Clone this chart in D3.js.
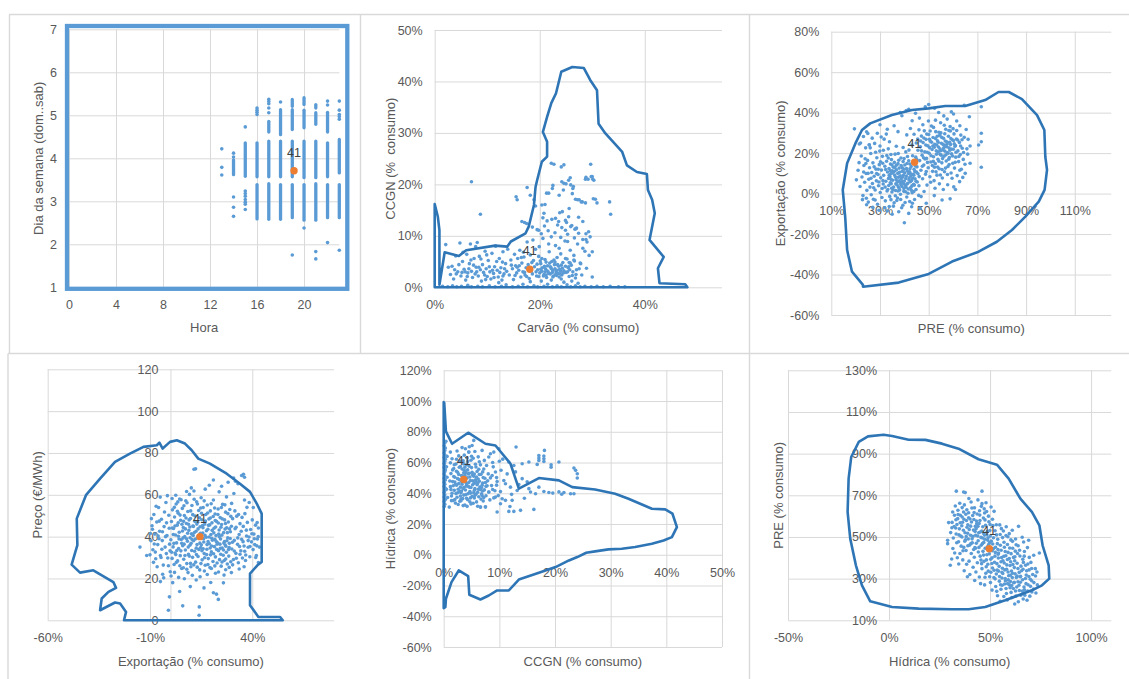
<!DOCTYPE html>
<html><head><meta charset="utf-8">
<script src="https://cdn.jsdelivr.net/npm/d3@7"></script>
<style>
body{margin:0;background:#fff}
svg{display:block;font-family:"Liberation Sans",Arial,sans-serif}
.tick text{fill:#595959;font-size:12.5px}
.ttl{fill:#595959;font-size:13px;white-space:pre}
.lbl{fill:#404040;font-size:12.5px}
</style></head><body>
<svg id="c" width="1129" height="679"></svg>
<script>
// ---------- tick values ----------
const hourTicks = [0, 4, 8, 12, 16, 20];
const dayTicks = [1, 2, 3, 4, 5, 6, 7];
const coalTicks = [0, 20, 40];
const ccgnTicks = [0, 10, 20, 30, 40, 50];
const preTicks = [10, 30, 50, 70, 90, 110];
const exportTicks = [-60, -40, -20, 0, 20, 40, 60, 80];
const exportTicksB = [-60, -10, 40];
const priceTicks = [0, 20, 40, 60, 80, 100, 120];
const hydroTicks = [-60, -40, -20, 0, 20, 40, 60, 80, 100, 120];
const hydroTicksB = [-50, 0, 50, 100];
const preTicksB = [10, 30, 50, 70, 90, 110, 130];

// ---------- hour / weekday: dense runs [hour, from, to] and single readings ----------
const hourRuns = [
  [14,3.62,3.96],[15,3.58,4.36],[16,3.57,4.36],[16,2.59,3.39],[17,4.61,4.86],[17,3.57,4.40],[17,2.58,3.41],
  [18,4.55,5.13],[18,3.57,4.40],[18,2.58,3.39],[19,5.21,5.37],[19,4.67,5.13],[19,3.57,4.40],[19,2.62,3.39],
  [20,5.25,5.41],[20,4.71,5.12],[20,3.55,4.40],[20,2.56,3.39],[21,5.17,5.25],[21,4.79,5.06],[21,3.55,4.40],
  [21,2.56,3.41],[22,4.61,5.07],[22,3.57,4.36],[22,2.62,3.39],[23,3.66,4.44],[23,2.62,3.39]
];
const hourDots = [
  [13,4.22],[13,3.79],[13,3.61],[14,4.12],[14,4.03],[14,3.10],[14,2.86],[14,2.65],[15,4.73],[15,3.24],
  [15,3.18],[15,3.12],[15,3.04],[15,2.98],[15,2.93],[15,2.81],[16,5.17],[16,5.12],[16,5.07],[16,5.02],
  [17,5.37],[17,5.32],[17,5.27],[17,5.17],[17,5.06],[18,5.31],[19,1.75],[20,2.38],[21,1.83],[21,1.66],
  [22,5.33],[22,5.24],[22,2.04],[23,5.33],[23,5.12],[23,5.02],[23,4.97],[23,4.91],[23,1.86]
];

// ---------- Carvão vs CCGN (% consumo) ----------
const coalCcgnPts = [
  [1.5,0.2],[2.5,0.1],[3.4,0.3],[4.2,0.1],[5.1,0.2],[6.3,0.4],[7.0,0.1],[8.2,0.2],[9.1,0.1],[10.4,0.3],[11.5,0.1],[12.7,0.2],[13.6,0.5],[14.8,0.1],[15.9,0.2],[16.8,0.6],[17.7,0.1],[18.9,0.3],[19.6,0.1],[20.8,0.2],[21.5,0.6],[22.4,0.1],[23.3,0.3],[24.1,0.1],[25.2,0.5],[25.9,0.1],[26.8,0.3],[27.7,0.1],[28.6,0.2],[29.8,0.1],[30.9,0.2],[32.1,0.1],[33.4,0.2],[35.0,0.1],[36.2,0.1],[24.6,1.0],[26.1,1.2],[18.2,1.1],[12.2,0.9],[27.3,0.8],
  [2.1,8.3],[3.0,2.5],[3.3,4.1],[3.6,1.6],[4.0,6.1],[4.4,3.0],[4.8,8.6],[5.0,2.2],[5.3,5.0],[5.6,3.5],[5.9,1.4],[6.1,6.4],[6.3,2.8],[6.6,4.6],[6.8,8.4],[7.0,3.1],[7.2,1.9],[7.5,5.6],[7.7,2.6],[7.9,3.9],[8.1,8.7],[8.3,2.2],[8.5,6.0],[8.7,3.4],[8.9,1.2],[9.1,4.4],[9.3,2.9],[9.6,7.0],[9.8,3.6],[10.0,2.1],[10.2,5.2],[10.5,3.0],[10.7,1.6],[10.9,6.6],[11.2,2.7],[11.4,4.0],[11.6,8.0],[11.9,3.3],[12.1,2.0],[12.3,5.6],[12.6,3.8],[12.8,1.4],[13.0,6.9],[13.2,2.6],[13.5,4.6],[13.7,3.1],[13.9,7.4],[4.6,4.4],[5.8,3.0],[6.9,5.3],[7.4,4.3],[8.0,3.0],[8.8,5.5],[9.5,2.4],[10.4,4.0],[11.0,3.3],[11.8,5.0],[12.4,2.9],[13.3,3.6],[6.2,2.1],[3.8,3.4],[2.6,3.9],[5.4,6.8],[9.9,6.3],[7.8,7.9],[12.9,4.9],
  [14.2,2.4],[14.5,5.3],[14.8,3.6],[15.0,1.5],[15.2,6.4],[15.4,4.2],[15.6,2.8],[15.8,5.6],[16.0,3.3],[16.2,7.2],[16.4,2.0],[16.6,4.7],[16.8,3.0],[17.0,5.9],[17.2,2.4],[17.4,3.8],[17.6,8.8],[17.8,4.4],[18.0,1.7],[18.2,6.3],[18.4,3.2],[18.6,2.6],[18.8,5.2],[19.0,4.0],[19.2,7.4],[19.4,2.2],[19.6,3.4],[19.8,6.0],[20.0,2.8],[20.2,4.6],[20.4,3.1],[20.6,9.5],[20.8,2.5],[21.0,5.4],[21.1,3.6],[21.3,1.9],[21.5,4.2],[21.6,3.0],[21.8,6.9],[22.0,2.6],[22.1,3.9],[22.3,5.0],[22.5,3.3],[22.6,2.2],[22.8,4.4],[23.0,8.1],[23.1,3.0],[23.3,5.8],[23.5,2.7],[23.6,4.1],[23.8,3.5],[24.0,6.5],[24.2,2.4],[24.4,4.8],[24.6,3.2],[24.8,9.0],[25.0,2.9],[25.2,5.5],[25.4,3.8],[25.6,2.1],[25.8,7.2],[26.0,4.3],[26.3,3.0],[26.6,5.1],[26.9,2.5],[27.2,8.4],[27.5,3.6],[27.8,4.6],[28.2,9.3],[28.6,7.0],[29.0,8.8],[29.4,6.2],[21.2,2.4],[21.9,4.7],[22.4,2.9],[22.9,3.6],[23.4,4.4],[23.9,2.6],[20.5,3.8],[19.8,2.1],[20.9,4.1],[22.7,5.3],[24.3,3.7],[21.4,3.2],[23.2,2.3],[20.1,5.1],[18.5,4.8],[19.3,3.0],[17.1,2.9],[16.5,5.8],[15.7,3.9],[24.9,4.1],[25.7,3.4],[26.5,6.2],[19.9,7.9],[22.2,9.8],[23.7,7.6],[25.3,8.9],[26.8,1.8],[16.9,6.8],[18.7,9.2],[21.7,8.4],[24.1,1.6],[22.2,1.4],[20.3,1.2],
  [19.5,4.5],[20.2,3.5],[20.7,2.2],[21.2,4.9],[21.7,2.7],[22.0,4.0],[22.5,2.0],[22.9,4.9],[23.3,3.3],[23.7,2.0],[24.1,4.3],[24.5,2.8],[24.9,5.6],[25.3,3.0],[25.6,4.8],[21.0,3.0],[22.2,3.6],[23.0,2.5],[24.0,3.1],[20.4,5.6],[18.2,3.7],[17.5,2.1],[16.1,4.2],[15.3,2.3],[14.6,4.3],[13.0,2.2],[11.3,1.9],[9.7,1.5],[8.4,3.9],[6.5,3.6],[5.2,2.9],[4.1,2.6],[26.2,2.3],[27.0,3.4],[28.0,2.4],[28.9,3.7],[30.0,2.0],
  [17.5,12.4],[18.6,11.7],[19.2,15.8],[19.5,11.2],[20.3,10.4],[20.6,13.5],[21.0,16.1],[21.6,11.0],[22.3,13.2],[22.9,10.6],[23.4,12.1],[23.8,14.5],[24.2,11.6],[24.5,18.9],[24.9,13.0],[25.3,10.3],[25.6,15.3],[26.1,12.0],[26.4,19.6],[26.9,11.4],[27.4,13.6],[27.9,16.6],[28.8,10.4],[29.6,9.8],[30.2,17.2],[29.2,21.0],[30.0,21.5],[30.3,20.8],[24.2,20.5],[25.0,20.1],[23.7,17.9],[22.5,19.8],[28.7,16.4],[27.2,17.0],[26.6,9.6],[27.0,11.5],[25.8,21.3],[26.2,18.2],[21.3,18.3],[20.9,11.9],[28.2,12.8],[24.0,9.7],[25.1,12.6],
  [7.0,20.5],[8.7,14.2],[15.5,17.6],[15.7,17.0],[17.6,19.4],[18.2,17.9],[18.9,17.0],[20.4,16.0],[20.8,14.4],[22.2,24.1],[22.7,23.9],[24.1,23.4],[24.6,23.8],[21.7,18.3],[22.4,19.2],[24.6,20.2],[25.5,20.8],[25.9,19.9],[26.3,19.2],[26.8,17.1],[27.5,17.0],[28.1,16.6],[28.7,21.0],[28.8,21.4],[29.7,23.9],[29.8,21.5],[30.1,21.0],[30.6,17.1],[30.9,16.4],[33.3,16.6],[33.5,14.2],[25.5,13.7],[24.3,14.7],[23.0,13.4],[23.6,12.8],[21.4,12.9],[19.8,11.1],[17.1,12.6],[16.6,12.8],[24.9,11.1],[25.9,11.8],[26.7,11.3],[27.4,10.5],[28.8,9.3],[29.3,10.8],[28.2,7.6],[30.0,6.9],[27.7,4.7],[26.5,5.3],[25.5,4.0],[25.8,4.7]
];
const coalCcgnHull = [
  [0,16.2],[0.6,13.7],[0.9,11.1],[0.9,0.5],[1.9,6.8],[4.6,6.1],[6.0,7.2],[11.5,8.1],[13.8,7.9],[14.5,8.9],[17.3,10.5],[17.9,11.8],[18.9,16.0],[19.2,19.5],[19.5,20.8],[20.4,24.4],[21.4,25.4],[21.4,28.3],[20.6,30.2],[21.4,33.1],[22.2,35.8],[23.1,37.7],[24.1,41.9],[26.2,42.8],[28.4,42.6],[29.6,40.3],[30.9,38.3],[31.2,31.8],[32.5,29.9],[35.7,26.3],[36.6,23.7],[38.5,22.4],[40.4,22.0],[40.6,18.9],[41.4,17.0],[41.9,14.4],[40.9,9.2],[43.6,5.9],[42.5,3.7],[42.8,0.8],[47.7,0.6],[48.1,0],[0,0]
];

// ---------- PRE vs Exportação (% consumo) ----------
const preExportPts = [
  [21.0,11.5],[21.8,3.5],[22.3,18.6],[22.6,8.2],[23.0,-1.0],[23.4,13.9],[23.7,5.6],[24.1,22.6],[24.3,9.9],[24.6,1.6],[24.9,16.4],[25.2,-4.2],[25.4,7.1],[25.7,12.8],[25.9,3.2],[26.2,19.8],[26.4,-0.6],[26.6,10.4],[26.9,5.0],[27.1,15.2],[27.3,-2.8],[27.6,8.6],[27.8,24.8],[28.0,1.8],[28.3,12.1],[28.5,6.3],[28.7,17.7],[29.0,-5.3],[29.2,9.4],[29.4,3.9],[29.7,14.3],[29.9,21.0],[30.1,0.5],[30.3,7.8],[30.6,11.6],[30.8,-1.9],[31.0,18.4],[31.3,4.7],[31.5,9.0],[31.7,26.9],[32.0,13.5],[32.2,-3.6],[32.4,6.1],[32.7,16.0],[32.9,1.3],[33.1,10.7],[33.4,22.1],[33.6,4.0],[33.8,-6.4],[34.1,8.3],[34.3,14.6],[34.5,19.3],[34.8,2.6],[35.0,11.3],[22.0,25.0],[23.2,28.2],[25.0,29.7],[26.8,27.4],[28.9,29.8],[30.5,28.0],[32.6,29.4],[24.4,-2.3],[27.0,-6.8],[29.6,-8.2],[31.9,-7.0],[26.0,22.6],[28.2,20.4],[30.0,23.5],[31.4,21.4],[33.9,25.6],[20.3,6.8],[21.4,15.3],[23.9,17.2],[25.6,24.1],[27.4,2.9],[29.3,12.0],[31.1,15.0],[34.6,4.9],[22.8,-3.0],[32.8,18.8],
  [33.2,2.0],[33.5,7.5],[33.7,12.4],[34.0,-1.4],[34.2,5.3],[34.4,9.8],[34.7,16.8],[34.9,0.8],[35.2,6.6],[35.4,13.1],[35.6,3.2],[35.8,-4.5],[36.0,9.2],[36.2,19.5],[36.4,1.5],[36.6,7.0],[36.8,11.8],[37.0,4.4],[37.2,-2.2],[37.4,14.8],[37.6,8.1],[37.8,2.7],[38.0,10.5],[38.2,5.6],[38.4,-0.3],[38.6,17.6],[38.8,7.4],[39.0,3.5],[39.2,12.7],[39.4,-5.8],[39.6,9.0],[39.8,1.1],[40.0,6.2],[40.2,14.1],[40.4,4.0],[40.6,20.6],[40.8,8.7],[41.0,-1.7],[41.2,11.2],[41.4,5.1],[41.6,2.3],[41.8,16.2],[42.0,7.8],[42.2,-3.9],[42.4,10.1],[42.6,3.0],[42.8,13.4],[43.0,6.5],[43.2,0.4],[43.4,18.7],[43.6,9.5],[43.8,4.6],[44.0,12.0],[44.2,-2.9],[44.4,7.3],[44.6,15.5],[44.8,2.0],[45.0,10.6],[45.3,5.7],[45.6,21.4],[45.9,-0.9],[46.1,8.4],[36.1,12.9],[37.3,10.0],[38.7,13.9],[39.7,5.0],[40.9,12.4],[42.3,14.6],[35.1,10.2],[36.9,-3.4],[38.1,1.8],[39.3,8.2],[40.5,0.9],[41.7,9.9],[42.9,1.6],[44.1,4.2],[34.5,-3.0],[37.7,16.5],[39.9,17.3],[41.3,18.3],[43.3,-4.8],[35.5,-6.2],[38.9,-7.0],[40.3,-4.4],[36.5,4.8],[37.9,6.3],[39.1,11.0],[40.7,3.1],[42.5,5.9],[43.9,9.1],[45.2,13.2],[35.9,15.4],[34.3,11.3],[44.7,18.0],[33.4,17.6],[41.9,21.5],[39.5,22.8],[36.7,23.4],[43.1,24.0],[37.5,19.8],
  [34.6,6.9],[35.3,1.9],[35.9,11.0],[36.3,-1.1],[36.7,14.0],[37.1,6.0],[37.5,3.4],[37.9,12.6],[38.3,8.8],[38.5,-2.9],[39.1,5.9],[39.5,15.8],[39.8,2.5],[40.1,10.3],[40.6,7.5],[41.1,14.9],[41.5,0.2],[41.9,6.8],[42.3,12.3],[42.7,8.9],[43.1,3.8],[43.5,15.1],[43.9,1.0],[44.3,10.9],[44.8,6.1],[45.1,16.8],[45.6,9.8],[46.0,3.9],[36.3,8.3],[37.4,1.3],[38.6,4.5],[39.9,12.0],[41.0,4.6],[42.1,10.8],[43.4,7.6],[44.5,13.6],[34.9,14.2],[33.8,9.1],[32.3,11.9],[31.2,6.4],[30.2,15.7],[29.5,5.7],[28.6,9.9],[27.6,13.2],[26.3,7.6],[25.1,10.0],[24.2,14.9],[23.3,10.7],[30.9,2.5],[32.1,3.2],
  [46.3,16.3],[46.6,23.1],[46.8,11.5],[47.0,28.4],[47.3,19.0],[47.5,7.3],[47.7,25.2],[48.0,14.1],[48.2,31.0],[48.4,20.6],[48.7,9.6],[48.9,26.8],[49.1,17.4],[49.3,4.2],[49.6,23.6],[49.8,12.8],[50.0,29.2],[50.2,19.9],[50.5,8.3],[50.7,25.9],[50.9,15.6],[51.1,33.4],[51.4,21.8],[51.6,11.0],[51.8,27.7],[52.0,18.2],[52.2,6.4],[52.5,24.4],[52.7,14.8],[52.9,30.6],[53.1,21.2],[53.4,9.1],[53.6,26.1],[53.8,17.0],[54.0,23.0],[54.3,12.3],[54.5,28.8],[54.7,19.4],[54.9,35.0],[55.2,24.9],[55.4,15.2],[55.6,7.7],[55.8,21.6],[56.1,27.3],[56.3,18.5],[56.5,10.8],[56.7,23.8],[57.0,31.8],[57.2,16.1],[57.4,25.6],[57.6,20.3],[57.9,13.4],[58.1,28.3],[58.3,22.6],[58.5,17.8],[58.8,33.1],[59.0,24.2],[59.2,10.2],[59.4,19.6],[59.7,26.6],[59.9,15.0],[60.1,21.9],[60.4,29.5],[60.6,12.6],[60.8,23.4],[61.1,18.0],[61.4,27.0],[61.7,8.9],[62.0,21.1],[62.3,15.8],[62.6,25.3],[63.0,19.3],[63.4,12.0],[63.8,22.4],[64.2,16.9],[64.6,27.8],[52.3,22.9],[53.3,24.0],[53.9,20.6],[54.6,22.1],[55.1,19.0],[55.9,24.3],[56.6,21.0],[57.3,23.2],[58.0,19.9],[58.6,25.4],[59.3,22.0],[60.2,26.2],[61.0,23.7],[51.2,25.4],[50.4,22.7],[49.4,20.4],[48.5,17.1],[47.4,13.5],[51.9,15.9],[53.7,13.1],[55.5,11.9],[57.7,9.4],[59.6,7.6],[49.0,10.9],[50.8,5.6],[52.6,2.6],[54.4,4.8],[56.0,2.0],[57.8,4.4],[60.3,3.3],[62.7,5.9],[54.2,30.3],[56.4,33.8],[58.9,30.9],[61.5,31.2],[63.2,28.9],[47.6,34.0],[49.9,35.9],[52.8,36.3],[45.5,27.0],[46.0,31.5],[44.9,25.0],
  [47.1,21.1],[47.9,17.7],[48.8,24.0],[49.5,15.4],[50.3,26.8],[51.0,18.7],[51.7,23.5],[52.4,13.0],[52.8,27.2],[53.2,19.5],[53.9,25.4],[54.2,16.0],[54.9,21.2],[55.3,27.8],[55.7,17.3],[56.2,22.6],[56.8,26.0],[57.1,19.2],[57.6,24.5],[58.2,17.0],[58.7,21.4],[59.1,27.2],[59.8,18.6],[60.5,24.6],[61.2,20.4],[61.9,26.5],[62.4,18.3],[63.1,23.5],[63.7,26.6],[64.3,20.3],[50.6,30.9],[52.0,32.7],[53.5,28.3],[55.0,30.0],[56.6,29.6],[58.3,31.2],[60.0,32.1],[49.2,29.4],[48.0,27.5],[46.7,26.0],[51.5,13.9],[53.0,10.8],[54.8,9.2],[56.9,12.6],[58.4,14.4],[60.9,15.5],[62.8,11.5],[64.9,14.5],[65.7,22.1],[66.2,26.8],
  [39.0,38.5],[40.8,41.0],[41.8,41.6],[38.3,40.0],[43.2,36.0],[44.6,39.7],[46.2,37.3],[48.6,42.9],[50.0,44.0],[52.4,42.2],[54.1,40.1],[56.2,38.4],[57.6,36.8],[59.3,40.4],[60.2,39.3],[61.5,35.9],[64.6,43.6],[66.7,38.0],[62.8,33.5],[65.4,31.7],[67.0,23.5],[67.0,15.0],[65.0,10.0],[70.5,24.0],[71.6,25.6],[71.6,29.8],[71.6,13.0],[71.6,42.9],[66.0,19.5],[64.0,8.0],[61.0,2.0],[58.8,-2.6],[55.5,-3.2],[52.3,-1.0],[49.0,-4.8],[46.5,-7.2],[43.0,-6.5],[41.8,-9.8],[40.0,-14.4],[37.7,-9.0],[35.0,-10.2],[33.0,-8.6],[28.0,-3.2],[24.5,-5.5],[19.5,32.0],[21.5,24.5],[24.5,30.5],[25.6,24.0],[30.0,34.0],[33.0,31.8],[35.8,33.5],[37.4,30.6],[41.0,29.0],[42.5,32.2],[44.0,29.3],[46.9,-1.5],[48.1,1.0]
];
const preExportHull = [
  [23.0,-45.1],[18.5,-38.6],[16.5,-27.9],[15.7,-11.4],[14.7,1.8],[16.5,15.0],[19.9,24.8],[22.6,31.4],[26.0,34.7],[34.9,38.8],[43.1,41.3],[50.0,42.1],[56.8,43.3],[65.0,43.3],[73.2,46.2],[78.7,50.2],[82.9,50.2],[88.3,46.7],[94.5,38.8],[97.5,31.4],[97.9,18.2],[98.6,11.7],[97.6,1.8],[95.2,-4.0],[89.7,-11.4],[84.2,-18.0],[78.0,-23.8],[70.5,-28.7],[59.6,-33.6],[50.0,-39.7],[37.7,-44.0],[23.0,-46.0]
];

// ---------- Exportação (% consumo) vs Preço (€/MWh) ----------
const exportPricePts = [
  [0.2,38.5],[0.5,47.2],[0.8,29.6],[1.0,52.8],[1.3,35.1],[1.5,43.9],[1.8,26.7],[2.0,49.4],[2.3,32.2],[2.5,40.8],[2.8,55.6],[3.0,37.0],[3.3,45.5],[3.5,28.4],[3.8,51.2],[4.0,34.3],[4.3,42.1],[4.5,58.0],[4.8,30.9],[5.0,47.8],[5.3,38.6],[5.5,24.8],[5.8,53.5],[6.0,35.7],[6.3,44.4],[6.5,29.2],[6.8,50.1],[7.0,40.0],[7.3,33.6],[7.5,57.1],[7.8,46.3],[8.0,27.1],[8.3,37.8],[8.5,52.0],[8.8,31.5],[9.0,43.0],[9.3,60.2],[9.5,35.9],[9.8,48.7],[10.0,25.6],[10.3,41.3],[10.5,54.9],[10.8,30.1],[11.0,45.1],[11.3,38.0],[11.5,61.8],[11.8,33.0],[12.0,49.9],[12.3,27.8],[12.5,42.6],[12.8,56.7],[13.0,36.2],[13.3,46.9],[13.5,30.5],[13.8,52.5],[14.0,39.2],[14.3,24.1],[14.5,44.7],[14.8,34.8],[15.0,58.6],[15.3,48.1],[15.5,28.9],[15.8,41.7],[16.0,53.9],[16.3,37.4],[16.5,31.9],[16.8,46.0],[17.0,26.3],[17.3,50.6],[17.5,39.7],[17.8,34.0],[18.0,55.1],[18.3,43.5],[18.5,29.5],[18.8,48.4],[19.0,36.6],[19.3,25.2],[19.5,52.3],[19.8,41.0],[20.0,32.7],[20.3,46.6],[20.5,38.3],[20.8,28.1],[21.0,57.5],[21.3,44.0],[21.5,35.2],[21.8,50.8],[22.0,30.3],[22.3,40.5],[22.5,47.3],[22.8,27.4],[23.0,37.1],[23.3,53.2],[23.5,33.3],[23.8,43.2],[24.0,29.0],[24.3,49.1],[24.5,38.9],[24.8,25.9],[25.0,45.8],[25.3,34.6],[25.5,55.4],[25.8,31.1],[26.0,41.9],[26.3,28.6],[26.5,48.0],[26.8,36.0],[27.0,51.7],[27.3,32.5],[27.5,44.2],[27.8,26.9],[28.0,39.4],[28.3,47.0],[28.5,30.7],[28.8,36.8],[29.0,53.0],[29.3,42.3],[29.5,28.0],[29.8,45.0],[30.0,34.1],
  [0.9,44.1],[1.7,36.8],[2.6,31.4],[3.4,52.1],[4.2,38.9],[5.1,33.2],[5.9,42.7],[6.7,36.4],[7.6,48.9],[8.4,41.6],[9.2,30.7],[10.1,36.8],[10.9,50.5],[11.7,42.0],[12.6,34.5],[13.4,39.9],[14.2,49.0],[15.1,36.1],[15.9,44.3],[16.7,29.9],[17.6,42.8],[18.4,37.6],[19.2,45.6],[20.1,35.5],[20.9,49.6],[21.7,38.7],[22.6,33.9],[23.4,46.5],[24.2,36.4],[25.1,40.7],[25.9,33.6],[26.7,43.6],[27.6,38.0],[28.4,33.8],[29.2,39.1],[30.4,48.6],[30.8,29.1],[31.2,38.2],[31.6,43.8],[32.0,32.0],[32.4,49.8],[32.8,36.3],[33.2,27.5],[33.6,41.0],[34.0,46.2],[34.4,33.2],[34.8,38.7],[35.2,29.8],[35.6,44.9],[36.0,35.5],[36.4,51.0],[36.8,31.2],[37.2,40.3],[37.6,46.8],[38.0,34.9],[38.4,39.8],[38.8,30.4],[39.2,43.4],[39.6,37.5],[40.0,48.0],[40.4,33.8],[40.8,41.2],[41.2,36.2],[41.6,45.5],[42.0,31.0],[42.5,38.9],[43.0,27.6],[43.0,44.1],[11.2,44.9],[13.9,33.9],[17.1,47.5],[19.6,31.3],[22.1,44.6],[24.6,31.6],[8.8,45.9],[6.2,39.4],[3.8,46.6],[27.1,35.4],[15.4,33.3],[18.9,39.8],[21.2,41.8],[12.2,38.9],[9.6,39.5],[14.6,41.6],[16.2,39.0],[23.9,39.9],[26.4,37.6],[20.4,43.0],[7.3,43.7],[5.6,45.9],
  [1.4,41.0],[2.2,45.1],[3.1,33.4],[3.9,40.2],[4.7,50.3],[5.5,36.8],[6.4,47.3],[7.1,31.0],[7.9,39.0],[8.7,35.0],[9.5,44.6],[10.4,33.4],[11.1,40.6],[11.9,47.3],[12.7,31.4],[13.5,43.7],[14.4,36.9],[15.2,51.2],[16.0,34.2],[16.9,40.6],[17.7,31.4],[18.6,45.4],[19.4,34.6],[20.2,39.2],[21.1,31.8],[21.9,47.7],[22.8,36.4],[23.6,41.2],[24.4,34.4],[25.3,48.5],[26.1,36.9],[27.0,29.3],[27.8,41.9],[28.7,34.8],[29.5,49.7],[30.3,37.3],[31.2,33.1],[32.1,44.5],[32.9,39.4],[33.8,35.3],[34.6,42.6],[35.5,37.6],[36.3,33.0],[37.1,43.1],[38.0,38.1],[38.9,35.3],[39.8,41.4],[41.0,39.0],[42.2,35.6],[0.6,32.5],[1.9,54.0],[3.6,56.6],[5.2,57.6],[6.6,54.8],[8.1,56.2],[9.9,52.3],[11.6,57.9],[13.2,55.6],[14.8,53.7],[16.5,57.1],[18.2,51.3],[19.9,55.7],[21.6,53.7],[23.2,50.6],[24.9,53.9],[26.6,55.2],[28.1,51.0],[29.9,55.9],[31.5,52.3],[33.3,50.6],[35.0,49.2],[2.9,27.7],[4.6,26.1],[6.3,25.1],[8.0,24.4],[9.8,27.2],[11.4,26.5],[13.1,25.4],[14.9,27.1],[16.6,23.6],[18.3,26.7],[20.0,24.8],[21.7,26.0],[23.5,23.1],[25.2,27.9],[27.0,24.2],[28.7,25.3],[30.4,26.5],[32.2,29.7],[34.0,31.6],[36.0,25.6],[15.7,45.3],[17.9,36.2],[19.5,48.9],[12.9,46.0],[10.6,38.6],[9.1,48.0],[22.4,37.7],[24.7,44.5],[26.9,46.3],[28.9,43.7],[-8.8,43.5],[-5.6,39.0],[-3.9,42.3],[-1.9,46.6],[-7.4,32.6],[-2.0,31.9],[-5.5,47.4],[-0.2,33.2],
  [-9.5,38.0],[-9.0,45.2],[-8.6,33.7],[-8.1,50.6],[-7.6,41.2],[-7.2,29.4],[-6.7,47.0],[-6.2,36.2],[-5.8,53.9],[-5.3,42.6],[-4.9,31.0],[-4.4,48.3],[-4.0,38.1],[-3.5,26.4],[-3.1,44.8],[-2.6,35.0],[-2.2,56.3],[-1.7,40.5],[-1.3,29.8],[-0.8,50.2],[-0.4,36.4],[-0.1,23.2],[-9.8,41.5],[-7.9,36.5],[-6.0,40.3],[-4.2,34.0],[-2.4,40.0],[-0.6,44.0],[-5.0,58.9],[-1.5,59.6],[-3.8,22.0],[-6.5,25.6],[-8.3,27.7],[-10.0,31.3],[-11.6,31.0],[-14.9,35.0],[-2.9,51.8],[-7.0,54.5],[-1.0,26.1],[-3.3,20.3],[0.3,21.2],[-9.3,48.6],[-4.6,30.0],
  [11.5,72.2],[12.3,72.4],[34.8,69.2],[35.7,69.8],[36.2,68.4],[30.9,68.0],[31.8,66.5],[33.0,65.3],[28.2,66.0],[21.0,67.1],[19.0,64.6],[25.0,64.1],[17.0,62.7],[10.2,63.3],[7.9,61.6],[2.6,59.8],[0.8,58.2],[23.8,61.4],[27.4,59.0],[31.0,60.6],[36.2,57.5],[38.5,56.3],[40.5,53.9],[37.4,54.0],[42.4,46.7],[43.5,35.0],[42.9,40.0],[41.7,30.0],[36.7,28.6],[33.6,24.5],[29.8,22.8],[26.2,21.6],[22.0,22.5],[18.0,21.9],[14.5,20.8],[10.7,21.5],[6.8,19.9],[4.0,20.5],[8.6,22.8],[12.6,19.3],[2.0,22.9],[-0.5,11.2],[-1.0,4.8],[6.0,6.9],[14.1,6.4],[14.0,2.4],[16.4,15.5],[21.0,13.2],[22.5,12.5],[23.4,10.0],[9.7,16.1],[19.7,18.1],[25.9,17.9],[4.5,13.8],[1.1,18.0],[-4.9,18.5]
];
const exportPriceHull = [
  [-22.7,0],[-21.7,4.0],[-24.6,8.0],[-27.1,8.5],[-34.4,4.8],[-33.6,10.4],[-30.3,13.6],[-26.6,15.5],[-27.9,18.3],[-37.7,23.9],[-44.2,22.8],[-48.3,26.6],[-45.5,35.9],[-45.8,48.6],[-41.3,59.8],[-34.4,67.7],[-27.1,75.7],[-19.8,79.7],[-13.2,82.9],[-6.7,83.7],[-5.4,84.9],[-3.8,82.1],[-0.2,85.3],[3.1,86.1],[7.1,84.5],[10.4,81.3],[13.6,77.3],[19.3,74.9],[27.5,70.1],[34.0,65.3],[38.9,61.4],[42.2,55.8],[44.6,51.0],[44.6,27.9],[42.5,26.3],[38.9,22.3],[38.9,7.2],[43.0,1.6],[53.6,1.6],[54.9,0]
];

// ---------- CCGN vs Hídrica (% consumo) ----------
const ccgnHydroPts = [
  [0.1,31.4],[0.2,32.9],[0.1,34.7],[0.3,35.9],[0.1,37.6],[0.2,38.8],[0.1,40.5],[0.2,41.7],[0.3,43.3],[0.1,44.4],[0.2,45.9],[0.1,47.1],[0.3,48.6],[0.1,49.8],[0.2,51.3],[0.1,52.5],[0.2,54.0],[0.3,55.2],[0.1,56.8],[0.2,57.9],[0.1,59.4],[0.2,60.6],[0.3,62.1],[0.1,63.3],[0.2,64.9],[0.1,66.2],[0.2,67.8],[0.3,69.5],[0.1,70.9],[0.2,72.7],[0.4,73.8],[0.5,42.6],[0.6,50.4],[0.5,57.2],[0.7,37.3],[0.6,64.0],
  [1.0,31.0],[1.2,44.3],[1.3,52.8],[1.4,38.2],[1.5,62.5],[1.6,47.6],[1.7,35.3],[1.8,56.1],[1.9,41.9],[2.0,50.4],[2.1,33.6],[2.2,59.0],[2.3,45.2],[2.4,37.4],[2.5,53.7],[2.6,42.6],[2.7,64.3],[2.8,48.9],[2.9,34.8],[3.0,57.4],[3.1,40.3],[3.2,51.6],[3.3,45.9],[3.4,36.5],[3.5,61.2],[3.6,43.7],[3.7,54.9],[3.8,32.4],[3.9,47.3],[4.0,39.1],[4.1,58.6],[4.2,50.0],[4.3,35.8],[4.4,44.6],[4.5,66.8],[4.6,53.0],[4.7,41.2],[4.8,48.3],[4.9,33.1],[5.0,56.7],[5.1,38.0],[5.2,45.5],[5.3,62.8],[5.4,51.1],[5.5,36.9],[5.6,43.0],[5.7,58.9],[5.8,47.9],[5.9,34.4],[6.0,54.2],[6.1,40.7],[6.2,49.3],[6.3,37.7],[6.4,60.5],[6.5,44.1],[6.6,31.0],[6.7,52.3],[6.8,39.6],[6.9,67.9],[7.0,46.6],[7.1,35.0],[7.2,55.8],[7.3,42.2],[7.4,49.8],[7.5,31.2],[7.6,38.4],[7.7,58.1],[7.8,44.9],[8.0,52.6],[8.1,40.8],[1.1,48.0],[1.6,55.2],[2.2,39.8],[2.7,46.4],[3.1,35.2],[3.4,49.2],[3.6,53.3],[3.9,42.1],[4.1,46.0],[4.4,39.8],[4.6,57.6],[4.9,43.8],[5.2,51.9],[5.4,40.4],[5.7,48.8],[6.0,45.6],[6.3,55.6],[6.6,42.4],[2.9,61.0],[3.7,64.8],[4.3,60.6],[5.0,64.1],[5.6,67.2],[6.2,63.7],[2.4,67.5],[3.3,69.7],[4.6,70.3],[5.4,74.4],[5.1,71.1],[3.9,69.0],[4.5,66.8],[1.2,66.8],[2.0,36.0],[2.6,32.7],[3.5,32.0],[4.2,31.5],[5.3,33.5],[6.1,31.6],[4.8,37.0],[3.0,44.0],[2.3,54.3],[1.9,58.6],[3.8,56.9],[4.7,50.6],[5.8,39.4],[6.4,47.8],[7.0,53.9],[7.3,61.4],[7.9,48.1],[8.3,35.7],[8.6,45.0],[8.9,57.2],[9.2,41.6],[9.5,50.2],[9.8,38.5],[3.2,41.5],[4.0,53.5],[4.5,47.0],[5.5,52.5],[6.7,36.2],[7.6,44.5],[2.5,49.5],[3.6,38.8],[1.4,35.2],
  [1.3,42.4],[1.8,50.9],[2.1,45.9],[2.5,40.3],[2.8,56.9],[3.2,47.6],[3.5,43.1],[3.8,51.8],[4.1,36.7],[4.3,55.2],[4.6,44.0],[4.9,61.5],[5.2,48.1],[5.5,41.9],[5.8,57.1],[6.1,46.4],[6.4,52.2],[6.8,43.8],[7.1,50.2],[7.5,47.0],[2.0,47.3],[2.7,52.2],[3.0,38.2],[3.6,59.1],[4.0,44.6],[4.4,52.5],[4.8,40.1],[5.1,53.6],[5.5,46.5],[5.9,50.6],[6.2,42.6],[6.6,58.5],[7.0,41.5],[3.3,55.8],[4.2,62.9],[2.3,62.1],[1.7,44.9],[2.9,41.3],[3.9,49.6],[5.6,38.5],[6.9,45.2],[7.2,37.2],[1.2,59.8],[1.5,40.0],[8.4,50.0],[8.8,42.5],[9.6,47.7],[10.2,41.1],[4.7,34.5],[3.1,36.2],
  [13.0,70.1],[9.9,69.0],[11.7,60.3],[12.6,58.1],[14.1,59.2],[15.3,60.3],[16.8,58.8],[17.1,64.6],[17.1,62.9],[17.1,61.4],[18.0,64.2],[18.0,62.5],[18.0,60.7],[18.1,67.9],[19.3,58.6],[19.3,57.0],[20.7,60.3],[23.4,56.4],[23.7,54.9],[24.0,52.7],[24.0,49.9],[17.1,44.0],[15.3,43.0],[15.6,40.8],[16.5,39.7],[14.1,49.5],[18.0,41.2],[18.9,40.5],[19.6,40.1],[20.7,40.9],[21.2,39.4],[21.6,40.5],[22.8,39.7],[23.4,39.7],[16.2,29.5],[11.7,28.2],[12.6,28.2],[13.8,28.9],[9.6,27.8],[9.0,37.0],[9.3,37.5],[10.5,36.4],[11.1,35.4],[12.3,35.4],[11.1,46.2],[6.6,31.0],[7.5,31.0],[6.9,38.6],[8.1,40.8],[8.7,51.6],[9.3,53.8],[8.1,63.6],[8.4,65.7],[9.0,66.8],[10.3,55.0],[10.8,48.3],[11.4,52.6],[12.0,44.0],[12.9,53.9],[13.5,45.7],[10.0,60.8],[10.6,62.2],[8.8,60.0],[14.5,36.8],[12.2,39.3],[13.2,41.8],[15.0,47.5],[10.2,33.2],[11.9,31.4],[9.5,45.3]
];
const ccgnHydroHull = [
  [0,99.3],[0.1,98.7],[0.4,80.3],[1.5,72.2],[4.4,79.4],[7.5,72.2],[9.3,71.1],[12.0,59.2],[13.5,43.0],[17.1,49.9],[20.7,48.4],[23.1,44.0],[27.2,42.5],[30.8,39.7],[33.2,36.4],[37.4,29.9],[39.8,29.5],[41.1,26.7],[41.9,18.0],[41.0,11.5],[39.5,9.3],[37.4,7.2],[34.4,5.0],[32.0,3.9],[29.6,3.5],[27.2,2.2],[25.6,1.3],[24.0,-1.5],[22.5,-3.7],[20.1,-8.0],[17.1,-11.7],[13.5,-16.1],[11.7,-23.2],[9.6,-23.2],[8.1,-26.5],[6.6,-29.1],[4.6,-26.0],[4.4,-13.9],[2.7,-10.2],[1.4,-17.8],[0.4,-28.6],[0.3,-34.1],[0,-34.7]
];

// ---------- Hídrica vs PRE (% consumo) ----------
const hydroPrePts = [
  [30.5,52.1],[31.2,57.0],[31.8,49.5],[32.4,60.4],[33.0,54.3],[33.5,47.2],[34.1,62.8],[34.6,51.0],[35.2,56.8],[35.7,45.6],[36.2,59.6],[36.8,53.2],[37.3,65.4],[37.8,48.7],[38.3,57.9],[38.9,51.8],[39.4,61.6],[39.9,46.1],[40.4,55.2],[41.0,63.9],[41.5,50.3],[42.0,58.4],[42.5,44.9],[43.1,54.0],[43.6,61.0],[44.1,48.2],[44.6,56.5],[45.2,52.4],[45.7,64.7],[46.2,46.8],[46.7,59.1],[47.3,50.9],[47.8,55.6],[48.3,62.2],[48.8,48.5],[49.4,57.3],[49.9,53.1],[34.0,58.8],[35.5,50.5],[36.9,62.0],[38.6,54.7],[40.1,58.6],[41.8,53.3],[43.3,57.7],[44.9,60.5],[46.4,54.9],[33.2,51.4],[37.0,45.0],[39.2,49.0],[41.2,47.2],[42.9,50.8],[44.4,52.0],[47.1,63.5],[38.0,60.9],[36.0,55.4],[40.6,66.8],[42.3,64.0],[44.0,67.8],[46.0,66.0],[48.0,66.4],[50.5,64.4],[52.0,62.3],[39.5,68.5],[35.0,66.2],[33.3,72.0],[36.9,71.6],[37.7,71.3],[46.0,72.0],[29.5,56.9],[29.0,48.4],[29.0,46.8],[30.3,36.4],[32.5,42.3],[31.6,44.5],[33.8,40.0],[35.1,42.1],[36.5,39.0],[38.1,43.5],[31.0,39.4],[34.5,37.0],[38.4,36.9],
  [45.1,40.8],[45.6,46.0],[46.0,34.8],[46.5,43.1],[47.0,38.3],[47.4,48.9],[47.9,32.6],[48.4,41.5],[48.9,36.9],[49.3,46.4],[49.8,30.9],[50.3,39.3],[50.8,44.3],[51.2,35.1],[51.7,49.6],[52.2,37.9],[52.6,42.6],[53.1,32.2],[53.6,46.8],[54.1,39.9],[54.5,35.9],[55.0,51.2],[55.5,43.6],[55.9,30.3],[56.4,38.6],[56.9,47.5],[57.3,34.2],[57.8,41.0],[58.3,36.6],[58.8,50.1],[59.2,31.4],[59.7,44.7],[60.2,38.1],[60.6,33.7],[61.1,47.9],[61.6,40.2],[62.0,35.3],[62.5,43.2],[63.0,30.6],[63.4,37.4],[63.9,45.8],[64.4,33.0],[64.8,40.9],[65.3,36.0],[45.8,37.2],[47.6,44.6],[49.1,33.6],[50.6,48.0],[52.4,40.8],[53.9,44.0],[55.7,40.1],[57.1,45.1],[58.6,39.2],[60.4,42.0],[62.2,38.6],[46.9,51.6],[48.6,52.6],[50.1,50.5],[51.4,55.5],[53.2,51.0],[54.8,55.8],[56.6,52.9],[58.0,54.9],[59.5,51.6],[61.0,53.2],[62.6,49.0],[64.1,55.1],[66.6,47.6],[69.1,48.4],[65.9,49.9],[67.0,43.0],[68.5,44.9],[66.2,39.3],[67.6,36.4],[69.4,40.2],[71.6,41.2],[74.4,42.3],[72.4,34.8],[73.2,33.2],[70.2,37.8],[44.2,42.8],[43.7,37.6],[42.2,40.3],[40.7,42.1],[39.6,38.4],[41.6,35.5],[43.0,33.2],[44.7,30.8],[42.4,29.1],[40.0,32.0],[45.3,27.6],[47.3,27.0],[38.8,30.9],[37.2,33.8],
  [50.2,28.1],[51.0,24.5],[51.9,30.5],[52.8,26.2],[53.7,21.8],[54.6,28.8],[55.4,24.9],[56.3,32.5],[57.2,27.4],[58.1,22.9],[59.0,29.4],[59.9,25.6],[60.8,20.9],[61.7,28.0],[62.6,24.1],[63.4,31.2],[64.3,26.8],[65.2,22.0],[66.1,29.5],[67.0,24.6],[67.9,31.7],[68.8,27.1],[69.7,21.6],[70.6,29.0],[71.5,25.0],[72.5,31.3],[73.4,27.0],[68.3,19.6],[70.7,23.6],[66.4,20.2],[64.0,18.9],[62.2,17.8],[60.4,23.4],[58.5,19.8],[56.8,21.4],[55.0,19.1],[53.3,23.9],[57.5,30.1],[61.1,32.6],[65.6,33.8],[69.3,34.2],[71.1,32.0],[63.8,28.5],[59.6,27.0],[56.0,26.8],[52.5,29.9],[54.2,33.6],[66.8,26.0],[68.6,24.0],[61.5,25.3],[58.9,33.2],[62.8,21.7],[64.9,30.9],
  [36.4,57.1],[37.6,52.0],[39.0,55.9],[40.3,50.8],[41.4,60.3],[42.7,55.1],[43.9,50.5],[45.0,57.9],[46.3,49.5],[47.5,58.2],[48.7,45.3],[50.0,56.0],[51.3,46.6],[52.5,53.0],[53.8,48.9],[55.1,46.0],[56.2,49.7],[57.5,43.0],[58.6,46.4],[59.9,36.3],[61.2,44.6],[62.4,32.3],[63.6,42.1],[65.0,28.3],[66.3,34.5],[67.5,30.1],[68.7,37.0],[70.0,26.3],[49.6,41.9],[51.0,40.0],[52.0,34.0],[53.4,37.2],[54.7,31.0],[56.1,35.0],[57.6,29.0],[58.9,42.6],[60.1,28.6],[61.3,36.8],[50.4,33.1],[48.2,39.0],[46.8,41.3],[44.5,45.0],[43.2,47.0],[41.9,44.0],[40.5,46.8],[39.0,45.8],[37.5,48.0],[36.1,50.0],[34.8,53.9],[33.6,56.0],[32.2,55.0],[31.5,62.0],[32.8,64.9],[34.4,47.7],[36.6,43.4],
  [38.2,50.2],[39.7,53.6],[41.1,49.1],[42.6,52.6],[44.0,55.1],[45.5,49.8],[46.9,47.4],[48.4,51.1],[49.8,47.4],[51.1,43.4],[52.7,45.1],[54.0,41.7],[55.4,38.1],[56.8,40.7],[58.2,34.5],[59.5,39.7],[61.0,30.5],[62.3,40.5],[63.8,34.9],[65.1,31.1],[66.5,37.8],[67.8,27.6],[69.2,31.0],[70.6,34.9],[35.3,60.4],[37.1,58.5],[39.4,59.2],[42.1,61.7],[44.8,62.6],[47.3,61.5],[49.2,60.0],[51.2,58.5],[53.1,55.9],[55.6,54.0],[57.9,50.7],[60.3,48.6],[62.9,46.3],[64.6,43.6],[66.9,40.8],[68.1,33.8],[69.9,29.7],[71.7,28.1],[72.7,23.1],[67.2,22.0],[63.2,26.0],[60.0,31.6],[57.0,37.5],[54.2,42.3],[51.7,44.5],[49.0,49.6],[45.9,52.8],[43.4,56.4],[40.8,57.2],[38.5,63.1],[36.2,64.1],[34.2,60.8],[33.1,58.3],[31.1,54.4],[48.1,35.7],[50.9,37.3],[53.5,34.1],[55.9,33.0],[58.7,27.6],[62.0,28.2],[64.5,24.3],[66.0,24.0],[42.8,44.6],[45.5,38.9],[47.5,30.7],[55.2,27.1],[57.9,25.3],[60.7,26.7]
];
const hydroPreHull = [
  [-9.3,19.1],[-13.4,26.8],[-16.4,36.4],[-19.2,49.2],[-20.5,62.0],[-20.0,78.0],[-18.7,88.4],[-15.0,95.6],[-10.4,98.3],[-2.7,99.1],[1.5,98.5],[9.7,96.7],[18.0,96.6],[26.2,94.8],[34.4,92.4],[44.3,87.3],[53.4,84.7],[59.2,78.0],[65.0,68.4],[70.7,62.0],[74.4,55.6],[76.0,46.0],[79.0,36.4],[79.3,30.0],[75.7,26.8],[70.7,24.4],[64.1,22.0],[57.5,19.6],[47.6,16.4],[39.4,15.3],[31.1,15.3],[14.7,15.6],[1.5,16.4]
];

// highlighted observation (label "41") in each panel
const hourSel = [19.15, 3.71];
const coalCcgnSel = [18.1, 3.5];
const preExportSel = [44.2, 15.5];
const exportPriceSel = [14.4, 40.0];
const ccgnHydroSel = [3.6, 49.0];
const hydroPreSel = [49.6, 44.4];
const selLabel = "41";

// ---------- styles ----------
const GRID = "#d9d9d9", DOT = "#5b9bd5", HULL = "#2e75b6", SEL = "#ed7d31";
const pct = d => d + "%";

const svg = d3.select("#c");

// outlines of the six chart areas
const borders = [
  [9, 14.5, 1129, 14.5], [9.5, 14.5, 9.5, 353.5], [360.5, 14.5, 360.5, 353.5],
  [749.5, 14.5, 749.5, 679], [8, 353.5, 1129, 353.5], [8, 353.5, 8, 679]
];
svg.append("g").selectAll("line").data(borders).join("line")
  .attr("x1", d => d[0]).attr("y1", d => d[1]).attr("x2", d => d[2]).attr("y2", d => d[3])
  .attr("stroke", "#d9d9d9").attr("stroke-width", 1.4);

const panels = [
  { xd: [0, 23], xr: [69, 339.3], yd: [1, 7], yr: [287.3, 29.3], xt: hourTicks, yt: dayTicks,
    xf: String, yf: String, xTitle: "Hora", yTitle: "Dia da semana (dom..sab)",
    yTitleX: 38, xTitleY: 327.5, pts: hourDots, runs: hourRuns, sel: hourSel, frame: true },
  { xd: [0, 54.7], xr: [434.7, 722], yd: [0, 50], yr: [287.3, 30], xt: coalTicks, yt: ccgnTicks,
    xf: pct, yf: pct, xTitle: "Carvão (% consumo)", yTitle: "CCGN (%  consumo)",
    yTitleX: 390, xTitleY: 327.5, pts: coalCcgnPts, hull: coalCcgnHull, sel: coalCcgnSel },
  { xd: [10, 125], xr: [831.3, 1111.3], yd: [-60, 80], yr: [315, 31.7], xt: preTicks, yt: exportTicks,
    xf: pct, yf: pct, xAt: 0, xTitle: "PRE (% consumo)", yTitle: "Exportação (% consumo)",
    yTitleX: 780, xTitleY: 328, pts: preExportPts, hull: preExportHull, sel: preExportSel },
  { xd: [-60, 80], xr: [47.7, 334.1], yd: [0, 120], yr: [620.3, 369.3], xt: exportTicksB, yt: priceTicks,
    xf: pct, yf: String, yAt: 0, xTitle: "Exportação (% consumo)", yTitle: "Preço (€/MWh)",
    yTitleX: 37.3, xTitleY: 661, pts: exportPricePts, hull: exportPriceHull, sel: exportPriceSel },
  { xd: [0, 50], xr: [443.7, 722], yd: [-60, 120], yr: [647, 370.3], xt: ccgnTicks, yt: hydroTicks,
    xf: pct, yf: pct, xAt: 0, xTitle: "CCGN (% consumo)", yTitle: "Hídrica (% consumo)",
    yTitleX: 390.3, xTitleY: 661, pts: ccgnHydroPts, hull: ccgnHydroHull, sel: ccgnHydroSel },
  { xd: [-50, 110], xr: [788, 1111.3], yd: [10, 130], yr: [620.3, 370.3], xt: hydroTicksB, yt: preTicksB,
    xf: pct, yf: pct, yAt: 0, xTitle: "Hídrica (% consumo)", yTitle: "PRE (% consumo)",
    yTitleX: 778.7, xTitleY: 661, pts: hydroPrePts, hull: hydroPreHull, sel: hydroPreSel }
];

panels.forEach(p => {
  const x = d3.scaleLinear().domain(p.xd).range(p.xr);
  const y = d3.scaleLinear().domain(p.yd).range(p.yr);
  const g = svg.append("g");
  const w = p.xr[1] - p.xr[0], h = p.yr[0] - p.yr[1];

  // gridlines
  g.append("g").attr("transform", `translate(${p.xr[0]},0)`)
    .call(d3.axisLeft(y).tickValues(p.yt).tickSize(-w).tickFormat(""))
    .call(s => s.select(".domain").remove())
    .selectAll("line").attr("stroke", GRID);
  const vt = p.yAt !== undefined ? p.xt.concat([p.yAt]) : p.xt;
  g.append("g").attr("transform", `translate(0,${p.yr[0]})`)
    .call(d3.axisBottom(x).tickValues(vt).tickSize(-h).tickFormat(""))
    .call(s => s.select(".domain").remove())
    .selectAll("line").attr("stroke", GRID);

  // tick labels
  const yx = x(p.yAt !== undefined ? p.yAt : p.xd[0]);
  g.append("g").attr("transform", `translate(${yx},0)`)
    .call(d3.axisLeft(y).tickValues(p.yt).tickSize(0).tickPadding(12).tickFormat(p.yf))
    .call(s => s.select(".domain").remove());
  const xy = y(p.xAt !== undefined ? p.xAt : p.yd[0]);
  g.append("g").attr("transform", `translate(0,${xy})`)
    .call(d3.axisBottom(x).tickValues(p.xt).tickSize(0).tickPadding(13).tickFormat(p.xf))
    .call(s => s.select(".domain").remove());
  g.selectAll(".tick text").attr("fill", "#595959").style("font-size", "12.5px");

  // axis titles
  g.append("text").attr("class", "ttl").attr("x", (p.xr[0] + p.xr[1]) / 2).attr("y", p.xTitleY)
    .attr("text-anchor", "middle").attr("dy", "0.35em").text(p.xTitle);
  g.append("text").attr("class", "ttl")
    .attr("transform", `translate(${p.yTitleX},${(p.yr[0] + p.yr[1]) / 2}) rotate(-90)`)
    .attr("text-anchor", "middle").attr("dy", "0.35em").text(p.yTitle);

  // dense runs of readings
  if (p.runs) {
    g.append("g").selectAll("line").data(p.runs).join("line")
      .attr("x1", d => x(d[0])).attr("x2", d => x(d[0]))
      .attr("y1", d => y(d[1])).attr("y2", d => y(d[2]))
      .attr("stroke", DOT).attr("stroke-width", 3.3).attr("stroke-linecap", "round");
  }
  // scatter points
  g.append("g").selectAll("circle").data(p.pts).join("circle")
    .attr("cx", d => x(d[0])).attr("cy", d => y(d[1])).attr("r", 1.8).attr("fill", DOT);

  // envelope
  if (p.hull) {
    g.append("path").datum(p.hull)
      .attr("d", d3.line().x(d => x(d[0])).y(d => y(d[1])).curve(d3.curveLinearClosed))
      .attr("fill", "none").attr("stroke", HULL).attr("stroke-width", 2.6).attr("stroke-linejoin", "round");
  }

  // plot-area frame
  if (p.frame) {
    g.append("rect").attr("x", p.xr[0] - 2).attr("y", p.yr[1] - 3.3)
      .attr("width", w + 10).attr("height", h + 4.8)
      .attr("fill", "none").attr("stroke", DOT).attr("stroke-width", 4.3);
  }

  // highlighted observation
  g.append("circle").attr("cx", x(p.sel[0])).attr("cy", y(p.sel[1])).attr("r", 3.7).attr("fill", SEL);
  g.append("text").attr("class", "lbl").attr("x", x(p.sel[0])).attr("y", y(p.sel[1]) - 18.5)
    .attr("dy", "0.35em").attr("text-anchor", "middle").text(selLabel);
});
</script>
</body></html>
